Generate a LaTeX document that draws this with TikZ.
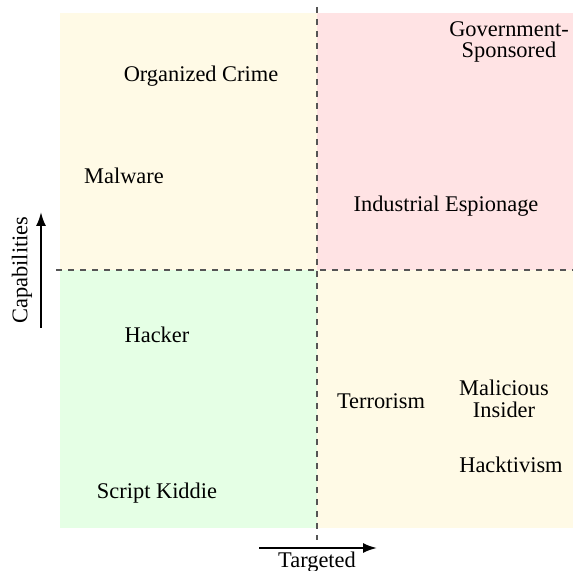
\documentclass[tikz,border=0pt]{standalone}
\usepackage{fontspec}
\setmainfont{Liberation Serif}
\usetikzlibrary{arrows.meta}
\definecolor{quadyellow}{HTML}{FFFAE6}
\definecolor{quadpink}{HTML}{FFE3E4}
\definecolor{quadgreen}{HTML}{E5FFE5}
\definecolor{divgray}{HTML}{555555}
\tikzset{
  actor/.style={font=\fontsize{11.2}{10.8}\selectfont, align=center, inner sep=0pt},
  divider/.style={dashed, divgray, line width=0.6pt},
  axisarrow/.style={-{Latex[length=7pt,width=5pt]}, line width=1pt}
}
\begin{document}
\begin{tikzpicture}[x=0.5pt,y=-0.5pt]
\useasboundingbox (0,0) rectangle (573,571);
% quadrants
\fill [quadyellow] (60,13) rectangle (317,270);
\fill [quadpink]   (317,13) rectangle (573,270);
\fill [quadgreen]  (60,270) rectangle (317,528);
\fill [quadyellow] (317,270) rectangle (573,528);
\draw [divider] (317,7)--(317,540);
\draw [divider] (56,270)--(573,270);
% actors
\node[actor] (crime)   at (201,76)  {Organized Crime};
\node[actor] (malware) at (124,176) {Malware};
\node[actor] (gov)     at (509,42)  {Government-\\Sponsored};
\node[actor] (espion)  at (446,206) {Industrial Espionage};
\node[actor] (hacker)  at (157,335) {Hacker};
\node[actor] (kiddie)  at (157,493) {Script Kiddie};
\node[actor] (terror)  at (381,401) {Terrorism};
\node[actor] (insider) at (504,399) {Malicious\\Insider};
\node[actor] (hackt)   at (511,465) {Hacktivism};
% axes
\coordinate (capfrom) at (41,328);
\coordinate (capto)   at (41,212);
\draw [axisarrow] (capfrom)--(capto);
\node[actor, rotate=90] (caplabel) at (22,270) {Capabilities};
\coordinate (tgtfrom) at (259,548);
\coordinate (tgtto)   at (377,548);
\draw [axisarrow] (tgtfrom)--(tgtto);
\node[actor] (tgtlabel) at (317,562) {Targeted};
\end{tikzpicture}
\end{document}
